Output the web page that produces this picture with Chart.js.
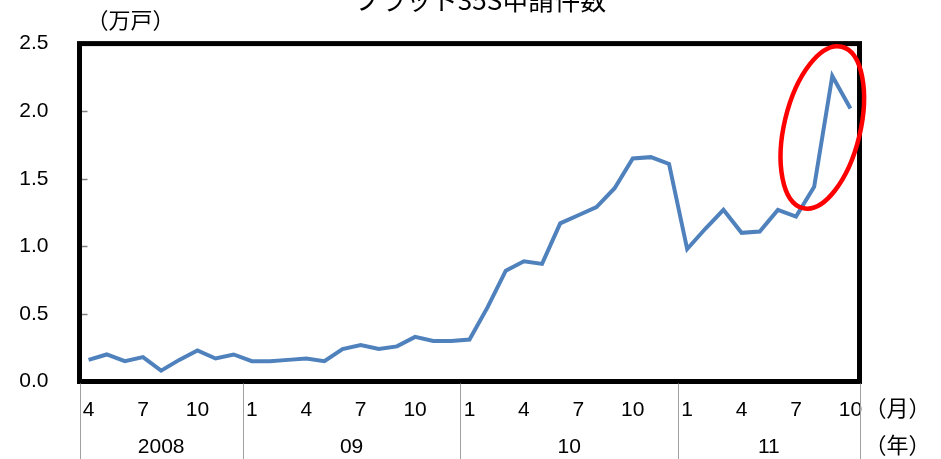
<!DOCTYPE html>
<html>
<head>
<meta charset="utf-8">
<script src="https://cdn.jsdelivr.net/npm/chart.js@4/dist/chart.umd.min.js"></script>
<style>
  html, body { margin: 0; padding: 0; background: #fff; }
  #wrap { width: 941px; height: 459px; position: relative; }
</style>
</head>
<body>
<div id="wrap"><canvas id="chart"></canvas></div>
<script>
// Setup block
const title = "フラット35S申請件数"
const unitLabel = "（万戸）"
const monthUnit = "（月）"
const yearUnit = "（年）"

const months = [4, 5, 6, 7, 8, 9, 10, 11, 12,
  1, 2, 3, 4, 5, 6, 7, 8, 9, 10, 11, 12,
  1, 2, 3, 4, 5, 6, 7, 8, 9, 10, 11, 12,
  1, 2, 3, 4, 5, 6, 7, 8, 9, 10]
const years = ["2008", "09", "10", "11"]
const shownMonths = [1, 4, 7, 10]

const applications = [0.16, 0.20, 0.15, 0.18, 0.08, 0.16, 0.23, 0.17, 0.20,
  0.15, 0.15, 0.16, 0.17, 0.15, 0.24, 0.27, 0.24, 0.26, 0.33, 0.30, 0.30,
  0.31, 0.55, 0.82, 0.89, 0.87, 1.17, 1.23, 1.29, 1.43, 1.65, 1.66, 1.61,
  0.98, 1.13, 1.27, 1.10, 1.11, 1.27, 1.22, 1.44, 2.26, 2.02]

// the red ring marks the last jump (index / value of its centre)
const highlight = { index: 40.45, value: 1.88 }

const jpFont = '"Noto Sans CJK JP", "Noto Sans", sans-serif'
const numFont = '"Liberation Sans", Arial, sans-serif'

// Draw frame, year row, units and the highlight ring
const decorations = {
  id: "decorations",
  afterDraw(chart) {
    const { ctx, chartArea: a, scales: { x, y } } = chart
    ctx.save()

    // inner ticks on the y axis
    ctx.strokeStyle = "#808080"
    ctx.lineWidth = 1.5
    for (let v = 0.5; v < 2.5; v += 0.5) {
      const py = Math.round(y.getPixelForValue(v)) + 0.5
      ctx.beginPath()
      ctx.moveTo(a.left, py)
      ctx.lineTo(a.left + 8, py)
      ctx.stroke()
    }

    // plot frame
    ctx.strokeStyle = "#000"
    ctx.lineWidth = 5
    ctx.strokeRect(a.left, a.top, a.right - a.left, a.bottom - a.top)

    // year separators and year labels
    const bounds = [a.left]
    months.forEach((m, i) => {
      if (m === 1 && i > 0) bounds.push((x.getPixelForValue(i - 1) + x.getPixelForValue(i)) / 2)
    })
    bounds.push(a.right)
    ctx.strokeStyle = "#a0a0a0"
    ctx.lineWidth = 1
    bounds.forEach(bx => {
      ctx.beginPath()
      ctx.moveTo(Math.round(bx) + 0.5, a.bottom + 2)
      ctx.lineTo(Math.round(bx) + 0.5, chart.height)
      ctx.stroke()
    })
    ctx.fillStyle = "#000"
    ctx.font = "21px " + numFont
    ctx.textAlign = "center"
    ctx.textBaseline = "middle"
    years.forEach((yr, i) => ctx.fillText(yr, (bounds[i] + bounds[i + 1]) / 2, 447))

    // units and title
    ctx.font = "22px " + jpFont
    ctx.textAlign = "left"
    ctx.fillText(monthUnit, a.right + 5, 408)
    ctx.fillText(yearUnit, a.right + 5, 445)
    ctx.fillText(unitLabel, a.left + 7, 20)
    ctx.font = "26px " + jpFont
    ctx.textAlign = "center"
    ctx.textBaseline = "alphabetic"
    ctx.fillText(title, 480, 10)

    // highlight ring
    ctx.strokeStyle = "#ff0000"
    ctx.lineWidth = 4.5
    ctx.beginPath()
    ctx.ellipse(x.getPixelForValue(highlight.index), y.getPixelForValue(highlight.value),
      38, 83, 13.5 * Math.PI / 180, 0, Math.PI * 2)
    ctx.stroke()

    ctx.restore()
  }
}

// Config block
const config = {
  type: "line",
  data: {
    labels: months,
    datasets: [{
      label: title,
      data: applications,
      borderColor: "#4F81BD",
      borderWidth: 4,
      pointRadius: 0,
      tension: 0,
      fill: false
    }]
  },
  options: {
    responsive: false,
    animation: false,
    layout: { autoPadding: false, padding: { top: 37, right: 81.5, left: 0, bottom: 0 } },
    plugins: { legend: { display: false }, tooltip: { enabled: false } },
    scales: {
      x: {
        offset: true,
        grid: { display: false, drawTicks: false },
        border: { display: false },
        afterFit: s => { s.height = 77.5 },
        ticks: {
          autoSkip: false,
          maxRotation: 0,
          padding: 16,
          color: "#000",
          font: { size: 21, family: numFont },
          callback: (v, i) => shownMonths.includes(months[i]) ? String(months[i]) : ""
        }
      },
      y: {
        min: 0,
        max: 2.5,
        grid: { display: false, drawTicks: false },
        border: { display: false },
        afterFit: s => { s.width = 79.5 },
        ticks: {
          stepSize: 0.5,
          padding: 31,
          color: "#000",
          font: { size: 21, family: numFont },
          callback: v => v.toFixed(1)
        }
      }
    }
  },
  plugins: [decorations]
}

// Render block
const canvas = document.getElementById("chart")
canvas.width = 941
canvas.height = 459
new Chart(canvas, config)
</script>
</body>
</html>
